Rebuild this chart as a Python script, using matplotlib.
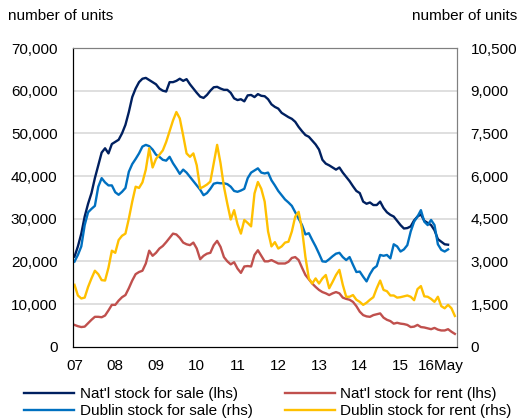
import numpy as np
import matplotlib.pyplot as plt

plt.rcParams['font.family'] = ['Liberation Sans', 'DejaVu Sans']

# monthly, Jan 2007 .. May 2016
year_ticks = [0, 12, 24, 36, 48, 60, 72, 84, 96, 108]
year_labels = ['07', '08', '09', '10', '11', '12', '13', '14', '15', '16May']

natl_sale = [21100, 23500, 26500, 30500, 33500, 36000, 39500, 42500, 45500, 46500,
             45300, 47500, 48000, 48500, 50000, 52000, 55000, 58500, 60500, 62000,
             62800, 63000, 62500, 62000, 61500, 60500, 60000, 59800, 62000, 62000,
             62300, 62800, 62300, 62700, 61500, 60500, 59500, 58600, 58300, 59000,
             60000, 60800, 60900, 60500, 60200, 60200, 59500, 58200, 57800, 58000,
             57500, 58900, 59000, 58500, 59200, 58800, 58700, 58000, 56800, 56200,
             55800, 54800, 54300, 53800, 53400, 52700, 51500, 50500, 49600, 49200,
             48300, 47400, 46200, 43800, 42900, 42500, 42000, 41500, 42000, 40800,
             39800, 38800, 37600, 36500, 36000, 34000, 33500, 33800, 33200, 33200,
             34000, 32500, 31500, 30900, 30500, 29500, 28500, 27700, 27800, 28200,
             29600, 30500, 31000, 29500, 29000, 28500, 27300, 25200, 24600, 24000,
             23900, np.nan, np.nan]

natl_rent = [5100, 4800, 4600, 4700, 5500, 6300, 7000, 7000, 6900, 7300,
             8500, 9800, 9800, 10800, 11600, 12100, 13700, 15500, 17000, 17500,
             17800, 19500, 22500, 21300, 22000, 23000, 23600, 24500, 25500, 26500,
             26300, 25500, 24400, 24000, 23800, 24400, 23000, 20500, 21300, 21800,
             22000, 23800, 24800, 23400, 21000, 20000, 19300, 19800, 18300, 17300,
             18800, 18900, 18800, 21500, 22600, 21300, 20000, 20000, 20300, 19900,
             19500, 19500, 19500, 19900, 20800, 21000, 20300, 18500, 16800, 15800,
             14800, 14000, 13300, 12800, 12500, 12100, 12500, 12800, 12500, 11500,
             11200, 11000, 10500, 9500, 8200, 7400, 7100, 7000, 7400, 7600,
             7800, 6800, 6300, 6000, 5400, 5600, 5400, 5300, 5100, 4600,
             4700, 5100, 4600, 4500, 4300, 4100, 4400, 4000, 3800, 3800,
             4100, 3500, 3000]

dublin_sale = [2990, 3225, 3525, 4275, 4725, 4845, 4950, 5625, 5925, 5775,
               5670, 5670, 5430, 5340, 5445, 5580, 6150, 6420, 6600, 6795,
               7035, 7095, 7050, 6930, 6750, 6675, 6570, 6540, 6675, 6450,
               6270, 6075, 6225, 6120, 5970, 5820, 5670, 5520, 5325, 5400,
               5550, 5730, 5760, 5745, 5745, 5715, 5625, 5475, 5445, 5490,
               5550, 5925, 6120, 6195, 6270, 6120, 6090, 6120, 5850, 5670,
               5475, 5325, 5175, 5070, 4950, 4725, 4500, 4275, 3945, 3990,
               3750, 3525, 3270, 3000, 2985, 3075, 3180, 3270, 3300, 3150,
               3045, 3150, 2880, 2625, 2640, 2460, 2295, 2550, 2745, 2835,
               3225, 3195, 3225, 3105, 3600, 3525, 3345, 3420, 3570, 4050,
               4395, 4575, 4800, 4395, 4275, 4455, 4275, 3600, 3405, 3345,
               3420, np.nan, np.nan]

dublin_rent = [2175, 1800, 1695, 1725, 2100, 2400, 2670, 2550, 2340, 2325,
               2775, 3375, 3300, 3750, 3900, 3975, 4500, 5100, 5625, 5580,
               5775, 6225, 6975, 6300, 6600, 6750, 6900, 7200, 7575, 7950,
               8250, 8025, 7425, 6795, 6675, 6795, 6375, 5565, 5625, 5700,
               5805, 6450, 7095, 6450, 5625, 5025, 4470, 4800, 4305, 3975,
               4455, 4350, 4230, 5385, 5790, 5550, 5100, 4050, 3525, 3675,
               3450, 3525, 3660, 3690, 4050, 4575, 4740, 4125, 3150, 2400,
               2220, 2400, 2220, 2400, 2520, 2055, 2280, 2520, 2700, 2175,
               1755, 1755, 1815, 1650, 1575, 1470, 1545, 1650, 1740, 2055,
               2325, 1995, 1950, 1800, 1800, 1725, 1740, 1770, 1800, 1755,
               1635, 2025, 2130, 1770, 1755, 1680, 1575, 1755, 1425, 1350,
               1470, 1350, 1080]

x = np.arange(len(dublin_rent))

fig = plt.figure(figsize=(5.2, 4.19), dpi=100)
ax = fig.add_axes([0.14, 0.1726, 0.738, 0.7128])
ax2 = ax.twinx()

lw = 1.7
l1, = ax.plot(x, natl_sale, color='#002060', lw=lw, label="Nat'l stock for sale (lhs)")
l3, = ax.plot(x, natl_rent, color='#C0504D', lw=lw, label="Nat'l stock for rent (lhs)")
l2, = ax2.plot(x, dublin_sale, color='#0070C0', lw=lw, label='Dublin stock for sale (rhs)')
l4, = ax2.plot(x, dublin_rent, color='#FFC000', lw=lw, label='Dublin stock for rent (rhs)')

ax.set_xlim(-0.5, len(x) - 0.5)
ax.set_ylim(0, 70000)
ax2.set_ylim(0, 10500)
ax.set_yticks(range(0, 70001, 10000))
ax2.set_yticks(range(0, 10501, 1500))
ax.set_yticklabels([f'{v:,}' for v in range(0, 70001, 10000)])
ax2.set_yticklabels([f'{v:,}' for v in range(0, 10501, 1500)])
ax.set_xticks(year_ticks)
ax.set_xticklabels(year_labels)

for v in range(10000, 70000, 10000):
    ax.axhline(v, color='#D9D9D9', lw=1.2, zorder=0)

fs = 11
ax.tick_params(axis='y', length=0, pad=11, labelsize=fs)
ax.tick_params(axis='x', length=0, pad=9, labelsize=fs)
ax2.tick_params(axis='y', length=0, pad=10, labelsize=fs)

for a in (ax, ax2):
    a.spines['left'].set_color('black')
    a.spines['bottom'].set_color('black')
    a.spines['top'].set_color('#808080')
    a.spines['right'].set_color('#808080')

fig.text(0.015, 0.962, 'number of units', fontsize=fs, va='center', ha='left')
fig.text(0.792, 0.962, 'number of units', fontsize=fs, va='center', ha='left')

fig.legend(handles=[l1, l2, l3, l4], ncol=2, loc='upper left',
           bbox_to_anchor=(0.046, 0.076), frameon=False, fontsize=fs,
           handlelength=3.3, handletextpad=0.35, columnspacing=2.1,
           labelspacing=0.2, borderpad=0, borderaxespad=0)

fig.savefig('out.png', dpi=100)
